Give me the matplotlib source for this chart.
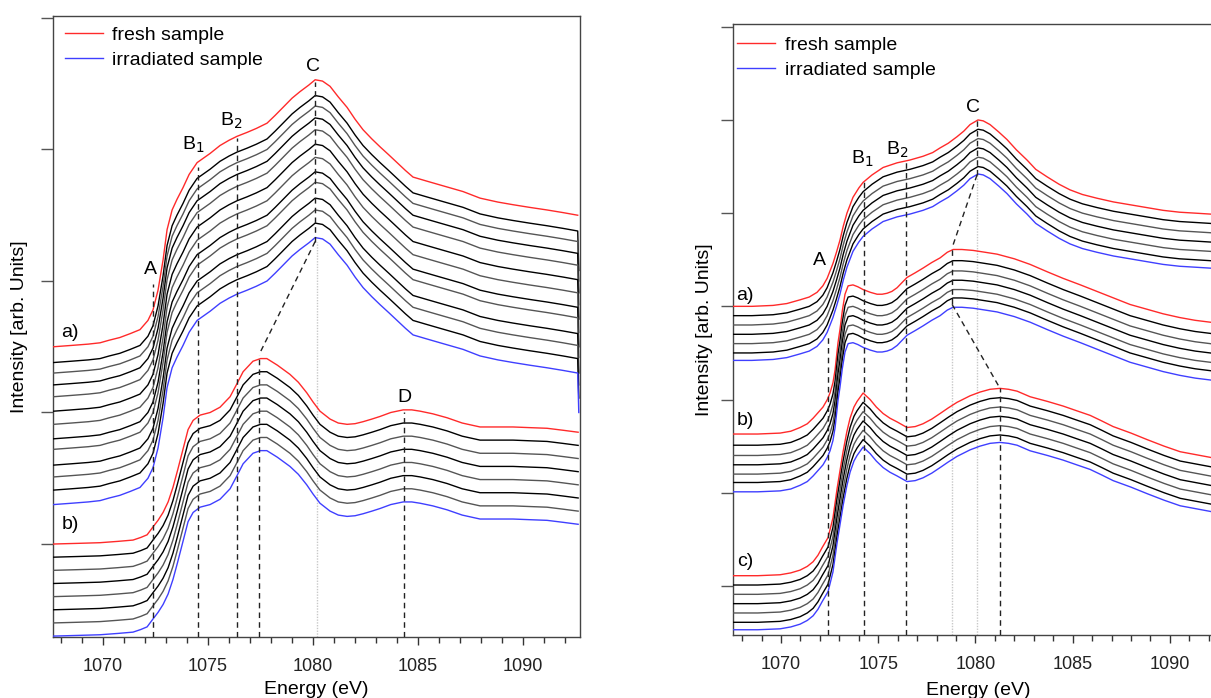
import numpy as np
import matplotlib.pyplot as plt
from matplotlib.ticker import MultipleLocator, NullFormatter

plt.rcParams['font.family'] = ['Liberation Sans', 'DejaVu Sans']

# ---------------- left panel, set a) (fresh curve, arb. units) ----------------
left_a_energy = [1067.65, 1068.5, 1069.3, 1069.86, 1070.3, 1070.8, 1071.3, 1071.76, 1072.14, 1072.38,
                 1072.62, 1072.86, 1073.05, 1073.29, 1073.52, 1073.81, 1074.1, 1074.48, 1075.1, 1075.57,
                 1076.0, 1076.38, 1076.86, 1077.3, 1077.81, 1078.2, 1078.57, 1079.0, 1079.38, 1079.8,
                 1080.1, 1080.45, 1080.81, 1081.2, 1081.62, 1082.0, 1082.38, 1082.8, 1083.19, 1083.6,
                 1084.0, 1084.4, 1084.76, 1085.4, 1086.05, 1087.14, 1087.95, 1088.8, 1089.52, 1090.3,
                 1091.14, 1091.9, 1092.6]
left_a_fresh = [15.0, 15.1, 15.2, 15.3, 15.5, 15.7, 16.0, 16.3, 17.0, 17.8,
                19.3, 21.6, 23.9, 25.4, 26.2, 27.1, 28.1, 29.0, 29.7, 30.3,
                30.7, 31.0, 31.3, 31.6, 32.0, 32.6, 33.2, 33.9, 34.4, 34.9,
                35.3, 35.2, 34.8, 34.0, 33.2, 32.3, 31.5, 30.8, 30.2, 29.6,
                29.0, 28.4, 27.9, 27.6, 27.3, 26.8, 26.3, 26.0, 25.8, 25.6,
                25.4, 25.2, 25.0]
left_a_offsets = [0, -1.2, -2.0, -2.9, -3.8, -4.9, -5.9, -7.0, -7.8, -9.0, -9.9, -10.9, -12.0]
left_a_end_drop = [0, 3, 3, 3, 3, 3, 3, 3, 3, 3, 3, 3, 3]

# ---------------- left panel, set b) ----------------
left_b_energy = [1067.65, 1068.8, 1069.86, 1070.7, 1071.43, 1071.8, 1072.1, 1072.38, 1072.62, 1072.86,
                 1073.1, 1073.33, 1073.55, 1073.76, 1074.05, 1074.29, 1074.62, 1075.1, 1075.57, 1076.05,
                 1076.38, 1076.67, 1077.14, 1077.5, 1077.8, 1078.3, 1078.9, 1079.3, 1079.7, 1080.0,
                 1080.33, 1080.81, 1081.2, 1081.62, 1082.0, 1082.38, 1082.8, 1083.19, 1083.7, 1084.29,
                 1084.7, 1085.1, 1085.7, 1086.38, 1087.1, 1087.95, 1088.7, 1089.52, 1090.3, 1091.14,
                 1091.9, 1092.62]
left_b_fresh = [0.0, 0.05, 0.1, 0.2, 0.3, 0.5, 0.7, 1.3, 1.8, 2.4,
                3.2, 4.3, 5.6, 6.9, 8.7, 9.4, 9.8, 10.0, 10.4, 11.2,
                12.2, 13.1, 13.9, 14.1, 14.1, 13.6, 12.9, 12.3, 11.5, 10.8,
                10.1, 9.5, 9.2, 9.1, 9.15, 9.3, 9.5, 9.7, 10.0, 10.2,
                10.2, 10.1, 9.9, 9.6, 9.2, 8.9, 8.9, 8.9, 8.85, 8.8,
                8.65, 8.5]
left_b_offsets = [0, -1, -2, -3, -4, -5, -6, -7]

# ---------------- right panel, set a) ----------------
right_a_energy = [1067.55, 1068.5, 1069.59, 1070.3, 1070.98, 1071.45, 1071.85, 1072.15, 1072.37, 1072.67,
                  1072.85, 1073.03, 1073.2, 1073.39, 1073.7, 1074.0, 1074.22, 1074.68, 1075.25, 1075.97,
                  1076.63, 1077.3, 1077.8, 1078.18, 1078.6, 1079.05, 1079.4, 1079.72, 1080.13, 1080.4,
                  1080.75, 1081.2, 1081.62, 1082.1, 1082.65, 1083.1, 1083.68, 1084.3, 1084.86, 1085.5,
                  1086.25, 1087.1, 1087.95, 1088.8, 1089.65, 1090.5, 1091.3, 1092.07, 1092.7]
right_a_fresh = [30.0, 30.0, 30.1, 30.3, 30.7, 31.0, 31.5, 32.2, 33.0, 34.6,
                 35.8, 37.1, 38.6, 40.0, 41.7, 42.7, 43.3, 44.1, 44.9, 45.4,
                 45.7, 46.1, 46.5, 47.0, 47.5, 48.2, 48.8, 49.5, 50.0, 49.9,
                 49.5, 48.7, 47.9, 46.8, 45.7, 44.7, 43.9, 43.1, 42.5, 42.0,
                 41.6, 41.2, 40.9, 40.6, 40.3, 40.1, 40.0, 39.9, 39.8]
right_a_offsets = [0, -1.0, -2.0, -3.0, -4.0, -5.0, -5.8]

# ---------------- right panel, set b) ----------------
right_b_energy = [1067.55, 1068.8, 1069.95, 1070.5, 1070.98, 1071.35, 1071.65, 1071.95, 1072.16, 1072.38,
                  1072.52, 1072.67, 1072.78, 1072.93, 1073.03, 1073.15, 1073.29, 1073.45, 1073.7, 1073.95,
                  1074.22, 1074.6, 1074.94, 1075.2, 1075.45, 1075.7, 1075.97, 1076.2, 1076.48, 1076.9,
                  1077.3, 1077.75, 1078.18, 1078.55, 1078.85, 1079.3, 1079.88, 1080.5, 1081.11, 1082.0,
                  1082.81, 1083.7, 1084.51, 1085.4, 1086.25, 1087.1, 1087.95, 1088.8, 1089.65, 1090.5,
                  1091.3, 1092.07, 1092.7]
right_b_fresh = [16.3, 16.3, 16.4, 16.6, 17.0, 17.4, 18.0, 18.7, 19.2, 20.0,
                 20.7, 21.8, 23.2, 26.1, 27.5, 29.5, 31.3, 32.2, 32.3, 32.1,
                 31.8, 31.5, 31.3, 31.3, 31.4, 31.6, 32.0, 32.5, 33.1, 33.6,
                 34.1, 34.7, 35.2, 35.8, 36.1, 36.1, 36.0, 35.8, 35.6, 35.1,
                 34.5, 33.7, 33.0, 32.3, 31.6, 30.9, 30.2, 29.7, 29.2, 28.8,
                 28.5, 28.3, 28.1]
right_b_offsets = [0, -1.2, -2.3, -3.3, -4.3, -5.2, -6.2]

# ---------------- right panel, set c) ----------------
right_c_energy = [1067.55, 1068.8, 1069.95, 1070.5, 1070.98, 1071.35, 1071.65, 1071.9, 1072.11, 1072.42,
                  1072.67, 1072.88, 1073.05, 1073.19, 1073.38, 1073.55, 1073.75, 1073.91, 1074.22, 1074.58,
                  1074.9, 1075.25, 1075.6, 1075.97, 1076.48, 1076.9, 1077.3, 1077.75, 1078.18, 1078.6,
                  1079.05, 1079.72, 1080.23, 1080.75, 1081.26, 1081.7, 1082.14, 1082.81, 1083.7, 1084.51,
                  1085.2, 1085.9, 1086.5, 1087.08, 1088.0, 1088.83, 1089.7, 1090.53, 1091.3, 1092.07,
                  1092.7]
right_c_fresh = [1.1, 1.1, 1.2, 1.4, 1.7, 2.1, 2.6, 3.3, 4.1, 5.2,
                 7.3, 10.4, 12.6, 14.4, 16.5, 18.0, 19.2, 19.8, 20.7, 20.0,
                 19.2, 18.5, 18.0, 17.6, 17.0, 17.1, 17.4, 17.9, 18.5, 19.1,
                 19.7, 20.4, 20.8, 21.1, 21.2, 21.1, 20.9, 20.3, 19.8, 19.3,
                 18.8, 18.3, 17.7, 17.1, 16.4, 15.7, 15.0, 14.4, 14.1, 13.8,
                 13.5]
right_c_offsets = [0, -1.0, -2.0, -3.0, -4.0, -5.0, -5.8]

# feature energies (eV)
left_features = {'A': 1072.4, 'B1': 1074.5, 'B2': 1076.37, 'C': 1080.1, 'Cb': 1077.43, 'D': 1084.33}
right_features = {'A': 1072.42, 'B1': 1074.27, 'B2': 1076.43, 'C': 1080.08, 'Cb': 1078.8, 'Cc': 1081.26}

RED = '#ff2a2a'
BLUE = '#3f3fff'
MID = ['#555555', '#000000']


def draw_set(ax, energy, fresh, offsets, end_drop=None):
    energy = np.array(energy)
    fresh = np.array(fresh)
    n = len(offsets)
    for i, off in enumerate(offsets):
        y = fresh + off
        if end_drop is not None and end_drop[i]:
            e = np.append(energy, energy[-1] + 0.05)
            y = np.append(y, y[-1] - end_drop[i])
        else:
            e = energy
        if i == 0:
            c = RED
        elif i == n - 1:
            c = BLUE
        else:
            c = MID[i % 2]
        ax.plot(e, y, color=c, lw=1.0, zorder=3)


def style_axes(ax, xlim, ylim, yticks):
    ax.set_xlim(*xlim)
    ax.set_ylim(*ylim)
    ax.set_yticks(yticks)
    ax.yaxis.set_major_formatter(NullFormatter())
    ax.xaxis.set_major_locator(MultipleLocator(5))
    ax.xaxis.set_minor_locator(MultipleLocator(1))
    ax.tick_params(axis='x', which='major', direction='out', length=6, width=1, labelsize=13,
                   colors='#333333', labelcolor='#222222', pad=9)
    ax.tick_params(axis='x', which='minor', direction='out', length=4, width=1, colors='#333333')
    ax.tick_params(axis='y', direction='out', length=9, width=1, colors='#555555')
    for s in ax.spines.values():
        s.set_color('#444444')
        s.set_linewidth(1.0)
    ax.set_xlabel('Energy (eV)', fontsize=14)
    ax.set_ylabel('Intensity [arb. Units]', fontsize=14)


def vdash(ax, x, y0, y1):
    ax.plot([x, x], [y0, y1], color='#222222', lw=1.0, ls=(0, (4, 3)), zorder=4)


def vdot(ax, x, y0, y1):
    ax.plot([x, x], [y0, y1], color='#c8c8c8', lw=1.0, ls=(0, (1, 1)), zorder=2)


fig = plt.figure(figsize=(12.11, 6.98), dpi=100)

# ================= left panel =================
ax1 = fig.add_axes([0.04377, 0.0874, 0.4352, 0.8897])
draw_set(ax1, left_a_energy, left_a_fresh, left_a_offsets, left_a_end_drop)
draw_set(ax1, left_b_energy, left_b_fresh, left_b_offsets)
style_axes(ax1, (1067.62, 1092.71), (-7.07, 40.15), [0, 10, 20, 30, 40])
ax1.xaxis.set_label_coords(0.5, -0.0705)
ax1.yaxis.set_label_coords(-0.047, 0.5)

lb = ax1.get_ylim()[0]
f = left_features
vdash(ax1, f['A'], lb, 19.8)
vdash(ax1, f['B1'], lb, 28.7)
vdash(ax1, f['B2'], lb, 30.9)
vdash(ax1, f['C'], 23.0, 35.1)
vdot(ax1, f['C'] + 0.1, lb, 23.0)
ax1.plot([f['C'], f['Cb']], [23.0, 14.4], color='#222222', lw=1.0, ls=(0, (4, 3)), zorder=4)
vdash(ax1, f['Cb'], lb, 14.4)
vdash(ax1, f['D'], lb, 10.0)

kw = dict(fontsize=14, ha='center', va='baseline', zorder=5)
ax1.text(1072.24, 20.5, 'A', **kw)
ax1.text(1074.3, 30.0, 'B$_1$', **kw)
ax1.text(1076.1, 31.8, 'B$_2$', **kw)
ax1.text(1080.0, 36.0, 'C', **kw)
ax1.text(1084.33, 10.8, 'D', **kw)
ax1.text(1068.4, 16.1, 'a)', fontsize=14, ha='center', va='center')
ax1.text(1068.45, 1.5, 'b)', fontsize=14, ha='center', va='center')

ax1.plot([], [], color=RED, lw=1.0, label='fresh sample')
ax1.plot([], [], color=BLUE, lw=1.0, label='irradiated sample')
ax1.legend(loc='upper left', bbox_to_anchor=(0.022, 0.984), frameon=False, fontsize=14,
           borderaxespad=0, borderpad=0, handlelength=1.95, handletextpad=0.5, labelspacing=0.4)

# ================= right panel =================
ax2 = fig.add_axes([0.6053, 0.0903, 0.4046, 0.8754])
draw_set(ax2, right_a_energy, right_a_fresh, right_a_offsets)
draw_set(ax2, right_b_energy, right_b_fresh, right_b_offsets)
draw_set(ax2, right_c_energy, right_c_fresh, right_c_offsets)
style_axes(ax2, (1067.53, 1092.73), (-5.26, 60.3), [0, 10, 20, 30, 40, 50, 60])
ax2.xaxis.set_label_coords(0.5, -0.077)
ax2.yaxis.set_label_coords(-0.041, 0.5)

rb = ax2.get_ylim()[0]
g = right_features
vdash(ax2, g['A'], rb, 26.7)
vdash(ax2, g['B1'], rb, 43.3)
vdash(ax2, g['B2'], rb, 45.7)
vdash(ax2, g['C'], 44.1, 50.0)
vdot(ax2, g['C'], rb, 44.1)
ax2.plot([g['C'], g['Cb']], [44.1, 36.3], color='#222222', lw=1.0, ls=(0, (4, 3)), zorder=4)
vdash(ax2, g['Cb'], 30.2, 36.3)
vdot(ax2, g['Cb'], rb, 30.2)
ax2.plot([g['Cb'], g['Cc']], [30.2, 21.2], color='#222222', lw=1.0, ls=(0, (4, 3)), zorder=4)
vdash(ax2, g['Cc'], rb, 21.2)

ax2.text(1072.0, 34.4, 'A', **kw)
ax2.text(1074.17, 45.3, 'B$_1$', **kw)
ax2.text(1075.95, 46.3, 'B$_2$', **kw)
ax2.text(1079.88, 50.9, 'C', **kw)
ax2.text(1068.15, 31.2, 'a)', fontsize=14, ha='center', va='center')
ax2.text(1068.15, 17.8, 'b)', fontsize=14, ha='center', va='center')
ax2.text(1068.15, 2.6, 'c)', fontsize=14, ha='center', va='center')

ax2.plot([], [], color=RED, lw=1.0, label='fresh sample')
ax2.plot([], [], color=BLUE, lw=1.0, label='irradiated sample')
ax2.legend(loc='upper left', bbox_to_anchor=(0.008, 0.980), frameon=False, fontsize=14,
           borderaxespad=0, borderpad=0, handlelength=1.95, handletextpad=0.5, labelspacing=0.4)

fig.savefig('out.png', dpi=100)
